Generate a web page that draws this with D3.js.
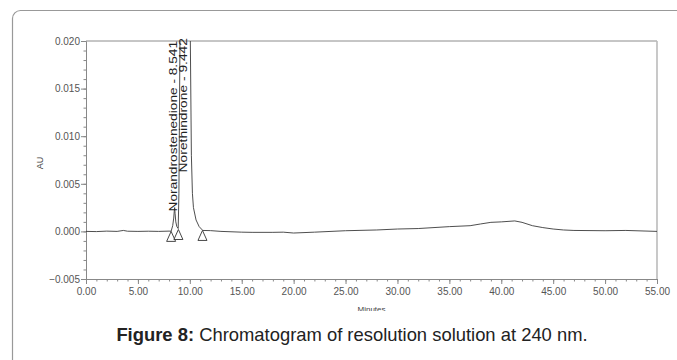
<!DOCTYPE html>
<html>
<head>
<meta charset="utf-8">
<script src="https://cdn.jsdelivr.net/npm/d3@7"></script>
<style>
  html, body { margin: 0; padding: 0; background: #fff; }
  svg { display: block; font-family: "Liberation Sans", Arial, sans-serif; }
</style>
</head>
<body>
<svg id="chart" width="677" height="360"></svg>
<script>
/* Chromatogram trace */
var times = [0, 1, 2, 3, 3.6, 4, 5, 6, 7, 8, 8.2, 8.35, 8.45, 8.5, 8.541, 8.58, 8.65, 8.75, 8.88,
             8.95, 9.05, 9.2, 9.442, 9.7, 9.95, 10.05, 10.15, 10.25, 10.35, 10.6, 10.9, 11.25,
             12, 13, 15, 16, 18, 19, 20, 22, 25, 28, 30, 32, 35, 37, 38, 39, 40, 41.3, 42, 43,
             44, 45, 46, 47, 50, 52, 55];
var absorbance = [0, -0.00002, 0.00003, 0, 0.0001, 0.00002, 0, 0.00002, 0, 0.00003, 0.00002,
                  0.0006, 0.0014, 0.0021, 0.0025, 0.0019, 0.001, 0.0005, 0.0003,
                  0.004, 0.02, 0.1, 0.3, 0.1, 0.03, 0.02, 0.008, 0.004, 0.0025, 0.0012, 0.0005, 0.0001,
                  0.00008, 0, -0.00008, -0.0001, -0.0001, -0.00008, -0.00017, -0.00008, 0.00007,
                  0.00015, 0.00025, 0.0003, 0.0005, 0.0006, 0.00078, 0.00095, 0.001, 0.0011,
                  0.00095, 0.0006, 0.0004, 0.00025, 0.00015, 0.0001, 0.00007, 0.0001, 0];

/* Peak labels */
var peakNames = ['Norandrostenedione', 'Norethindrone'];
var peakTimes = [8.541, 9.442];
var peakLabelBase = [0.0021, 0.0062];

/* Baseline start / end markers */
var markerTimes = [8.2, 8.9, 11.22];
var markerValues = [0, 0.0002, 0.0001];

/* Axes */
var xMajorTicks = [0, 5, 10, 15, 20, 25, 30, 35, 40, 45, 50, 55];
var yMajorTicks = [-0.005, 0, 0.005, 0.01, 0.015, 0.02];
var xDomain = [0, 55];
var yDomain = [-0.005, 0.02];

var caption = ['Figure 8:', ' Chromatogram of resolution solution at 240 nm.'];

var svg = d3.select('#chart'),
    plotLeft = 86,
    plotRight = 657,
    plotTop = 41,
    plotBottom = 279;

var x = d3.scaleLinear().domain(xDomain).range([plotLeft, plotRight]);
var y = d3.scaleLinear().domain(yDomain).range([plotBottom, plotTop]);

// outer frame with rounded top-left corner, runs off the page
svg.append('path')
  .attr('d', 'M12.5,362 V18.5 A8,8 0 0 1 20.5,10.5 H680')
  .attr('fill', 'none')
  .attr('stroke', '#999')
  .attr('stroke-width', 1.2);

var defs = svg.append('defs');
defs.append('clipPath').attr('id', 'plot-clip')
  .append('rect')
  .attr('x', plotLeft).attr('y', plotTop)
  .attr('width', plotRight - plotLeft).attr('height', plotBottom - plotTop);
defs.append('clipPath').attr('id', 'chart-clip')
  .append('rect')
  .attr('x', 0).attr('y', 0)
  .attr('width', 677).attr('height', 311);

var chart = svg.append('g').attr('clip-path', 'url(#chart-clip)');

// top and right borders of the plot box
chart.append('line')
  .attr('x1', plotLeft).attr('x2', plotRight)
  .attr('y1', plotTop).attr('y2', plotTop)
  .attr('stroke', '#8c8c8c').attr('stroke-width', 1);
chart.append('line')
  .attr('x1', plotRight).attr('x2', plotRight)
  .attr('y1', plotTop).attr('y2', plotBottom)
  .attr('stroke', '#bbb').attr('stroke-width', 1.6);

/**
 * Draws one axis, with its minor ticks as a second label-less axis.
 */
var drawAxis = function(axisFn, scale, majors, minors, translate, isY) {
  var minor = chart.append('g')
    .attr('transform', translate)
    .call(axisFn(scale).tickValues(minors).tickSize(2.5).tickFormat(''));
  minor.select('.domain').remove();

  var major = chart.append('g')
    .attr('transform', translate)
    .call(axisFn(scale).tickValues(majors).tickSizeOuter(0).tickSize(5)
      .tickPadding(isY ? 1 : 4)
      .tickFormat(isY ? d3.format('.3f') : d3.format('.2f')));

  [minor, major].forEach(function(g) {
    g.selectAll('line').attr('stroke', '#888');
    g.selectAll('.domain').attr('stroke', '#888');
    g.selectAll('text')
      .attr('fill', '#555')
      .style('font-size', '10px')
      .style('font-family', '"Liberation Sans", Arial, sans-serif');
  });
  return major;
};

var xMinors = d3.range(xDomain[0], xDomain[1] + 1);
var yMinors = d3.range(0, 26).map(function(i) { return yDomain[0] + i * 0.001; });

drawAxis(d3.axisBottom, x, xMajorTicks, xMinors, 'translate(0,' + plotBottom + ')', false);
drawAxis(d3.axisLeft, y, yMajorTicks, yMinors, 'translate(' + plotLeft + ',0)', true);

// axis titles
chart.append('text')
  .attr('transform', 'translate(43,' + ((plotTop + plotBottom) / 2 + 3) + ') rotate(-90)')
  .attr('text-anchor', 'middle')
  .attr('fill', '#444')
  .style('font-size', '9px')
  .text('AU');

chart.append('text')
  .attr('x', (plotLeft + plotRight) / 2)
  .attr('y', 312)
  .attr('text-anchor', 'middle')
  .attr('fill', '#444')
  .style('font-size', '8px')
  .text('Minutes');

// the trace
var line = d3.line()
  .x(function(d, i) { return x(times[i]); })
  .y(function(d) { return y(d); });

chart.append('path')
  .datum(absorbance)
  .attr('clip-path', 'url(#plot-clip)')
  .attr('d', line)
  .attr('fill', 'none')
  .attr('stroke', '#3a3a3a')
  .attr('stroke-width', 0.9)
  .attr('stroke-linejoin', 'round');

// baseline markers: open triangles hanging from the trace
chart.selectAll('path.marker')
  .data(markerTimes)
  .enter().append('path')
  .attr('class', 'marker')
  .attr('d', function(t, i) {
    var p = d3.path(),
        cx = x(t),
        cy = y(markerValues[i]);
    p.moveTo(cx, cy);
    p.lineTo(cx - 4.5, cy + 10);
    p.lineTo(cx + 4.5, cy + 10);
    p.closePath();
    return p.toString();
  })
  .attr('fill', '#fff')
  .attr('fill-opacity', 0.6)
  .attr('stroke', '#333')
  .attr('stroke-width', 0.9);

// peak labels, written upward from just above each peak
chart.selectAll('text.peak')
  .data(peakNames)
  .enter().append('text')
  .attr('class', 'peak')
  .attr('transform', function(d, i) {
    return 'translate(' + (x(peakTimes[i]) - 1) + ',' + y(peakLabelBase[i]) + ') rotate(-90)';
  })
  .attr('dy', '0.35em')
  .attr('textLength', function(d, i) { return y(peakLabelBase[i]) - plotTop + (i ? 3 : 0); })
  .attr('lengthAdjust', 'spacingAndGlyphs')
  .attr('fill', '#222')
  .style('font-size', '10px')
  .text(function(d, i) { return d + ' - ' + peakTimes[i].toFixed(3); });

// caption
var cap = svg.append('text')
  .attr('x', 352)
  .attr('y', 341)
  .attr('text-anchor', 'middle')
  .attr('fill', '#222')
  .style('font-size', '18.4px');
cap.append('tspan').style('font-weight', 'bold').text(caption[0]);
cap.append('tspan').text(caption[1]);
</script>
</body>
</html>
